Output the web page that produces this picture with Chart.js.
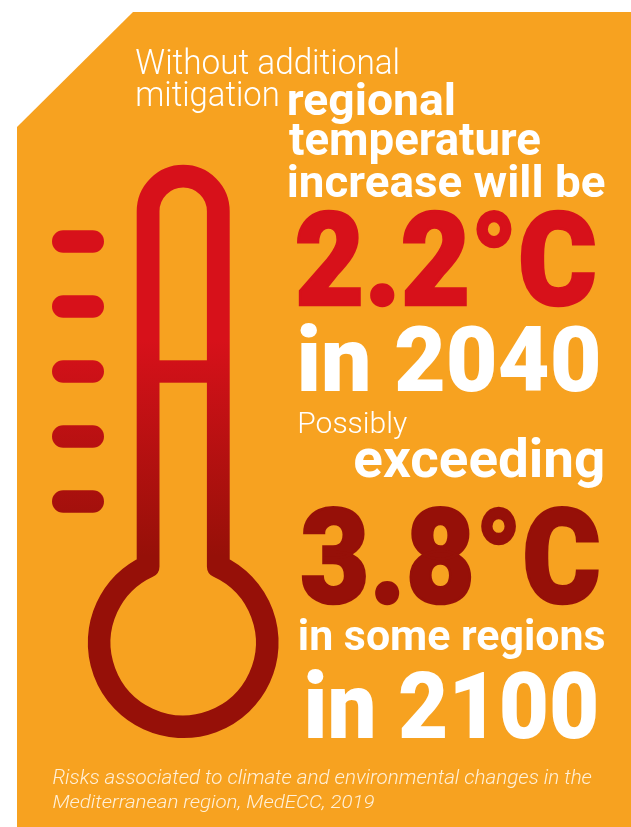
<!DOCTYPE html>
<html>
<head>
<meta charset="utf-8">
<style>
html,body{margin:0;padding:0;background:#fff}
canvas{display:block}
</style>
<script src="https://cdn.jsdelivr.net/npm/chart.js@4"></script>
</head>
<body>
<canvas id="c" width="631" height="827"></canvas>
<script>
const scaleMarks = ['mark 5','mark 4','mark 3','mark 2','mark 1'];
const scaleMarkLength = [1,1,1,1,1];
const temperatures = [2.2, 3.8];
const years = [2040, 2100];

const ORANGE = '#f7a220', RED = '#d7111a', DARK = '#961008', WHITE = '#ffffff', CAPTION = '#fff0d8';
const FONT = '"Roboto"';

// text, left, right, top, baseline, weight, colour, style, extra outline weight
const textRows = [
  ['Without additional', 136, 397.5, 48, 74, 300, WHITE, 'normal', 0],
  ['mitigation', 137.5, 277.5, 80, 105.5, 300, WHITE, 'normal', 0],
  ['regional', 289, 453.5, 81, 115, 700, WHITE, 'normal', 0],
  ['temperature', 289, 540, 125, 155, 700, WHITE, 'normal', 0],
  ['increase will be', 289, 604.5, 163, 196.5, 700, WHITE, 'normal', 0],
  [temperatures[0].toFixed(1) + '°C', 296, 596, 209, 306, 900, RED, 'normal', 2.5],
  ['in ' + years[0], 300, 598, 323, 391, 900, WHITE, 'normal', 0],
  ['Possibly', 300, 407, 411, 433, 300, WHITE, 'normal', 0],
  ['exceeding', 355, 602.5, 436, 477, 700, WHITE, 'normal', 0],
  [temperatures[1].toFixed(1) + '°C', 301.5, 600, 505, 604, 900, DARK, 'normal', 2.5],
  ['in some regions', 300, 604, 618, 650, 700, WHITE, 'normal', 0],
  ['in ' + years[1], 307, 596, 668, 738, 900, WHITE, 'normal', 0],
  ['Risks associated to climate and environmental changes in the', 53, 591.5, 769, 784, 300, CAPTION, 'italic', 0],
  ['Mediterranean region, MedECC, 2019', 53, 374, 794, 808, 300, CAPTION, 'italic', 0]
];

function fitText(ctx, [str, x0, x1, top, base, weight, color, style, heft]) {
  ctx.save();
  ctx.font = `${style} ${weight} 100px ${FONT}, sans-serif`;
  ctx.textBaseline = 'alphabetic';
  ctx.textAlign = 'left';
  ctx.fillStyle = color;
  ctx.strokeStyle = color;
  const m = ctx.measureText(str);
  const l = x0 + heft / 2, r = x1 - heft / 2, t = top + heft / 2, b = base - heft / 2;
  const sx = (r - l) / (m.actualBoundingBoxRight + m.actualBoundingBoxLeft);
  const sy = (b - t) / m.actualBoundingBoxAscent;
  ctx.translate(l + m.actualBoundingBoxLeft * sx, b);
  ctx.scale(sx, sy);
  ctx.fillText(str, 0, 0);
  if (heft) {
    ctx.lineWidth = heft / ((sx + sy) / 2);
    ctx.lineJoin = 'miter';
    ctx.miterLimit = 2;
    ctx.strokeText(str, 0, 0);
  }
  ctx.restore();
}

const ctx0 = document.getElementById('c').getContext('2d');
const grad = ctx0.createLinearGradient(0, 340, 0, 556);
grad.addColorStop(0, RED);
grad.addColorStop(1, DARK);

const infographic = {
  id: 'infographic',
  beforeDraw(chart) {
    const ctx = chart.ctx;
    ctx.save();
    ctx.fillStyle = '#ffffff';
    ctx.fillRect(0, 0, 631, 827);
    ctx.fillStyle = ORANGE;
    ctx.beginPath();
    ctx.moveTo(133, 12); ctx.lineTo(631, 12); ctx.lineTo(631, 827);
    ctx.lineTo(17, 827); ctx.lineTo(17, 127); ctx.closePath();
    ctx.fill();

    const cx = 183.2, rStem = 35.1, topY = 211.3, bulbY = 642.7, rBulb = 84;
    const a = Math.asin(rStem / rBulb);
    ctx.strokeStyle = grad;
    ctx.lineWidth = 22.8;
    ctx.lineJoin = 'round';
    ctx.beginPath();
    ctx.arc(cx, topY, rStem, Math.PI, 0);
    ctx.arc(cx, bulbY, rBulb, -Math.PI / 2 + a, -Math.PI / 2 - a + 2 * Math.PI);
    ctx.closePath();
    ctx.stroke();
    ctx.fillStyle = grad;
    ctx.fillRect(cx - rStem, 360.3, 2 * rStem, 22.4);
    ctx.restore();
  },
  afterDraw(chart) {
    textRows.forEach(r => fitText(chart.ctx, r));
  }
};

new Chart(ctx0, {
  type: 'bar',
  data: {
    labels: scaleMarks,
    datasets: [{
      data: scaleMarkLength,
      backgroundColor: grad,
      borderSkipped: false,
      borderRadius: 11.2,
      barThickness: 22.5,
      inflateAmount: 0
    }]
  },
  options: {
    indexAxis: 'y',
    responsive: false,
    animation: false,
    events: [],
    layout: { padding: { left: 52, right: 527, top: 209, bottom: 293 } },
    plugins: { legend: { display: false }, tooltip: { enabled: false }, title: { display: false } },
    scales: {
      x: { display: false, min: 0, max: 1 },
      y: { display: false }
    }
  },
  plugins: [infographic]
});
</script>
</body>
</html>
